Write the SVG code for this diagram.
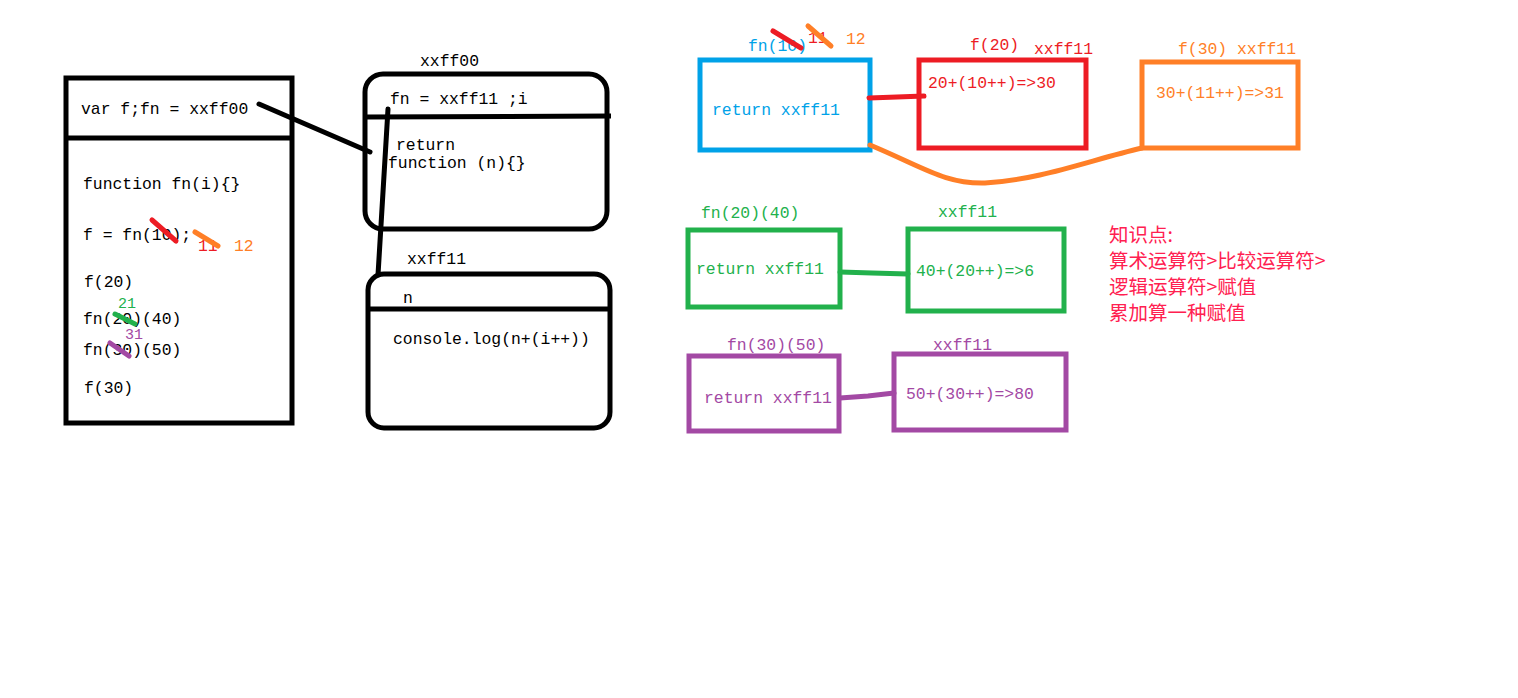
<svg xmlns="http://www.w3.org/2000/svg" width="1518" height="698" viewBox="0 0 1518 698">
<style>
text{font-family:"Liberation Mono","DejaVu Sans Mono",monospace;font-size:16.4px;}
.k{fill:#000}
.sm{font-size:15px}
.cn{font-family:"Noto Sans CJK SC","Noto Sans CJK JP",sans-serif;font-size:19.5px;fill:#ff2050}
.bk{fill:none;stroke:#000;stroke-width:5}
.ln{fill:none;stroke-width:5;stroke-linecap:round}
.blue{fill:#00a2e8}.red{fill:#ed1c24}.org{fill:#ff7f27}.grn{fill:#22b14c}.pur{fill:#a349a4}
</style>
<rect width="1518" height="698" fill="#fff"/>

<g id="stack">
<rect class="bk" x="66" y="78" width="226" height="345"/>
<line class="bk" x1="66" y1="138" x2="292" y2="138"/>
<text class="k" x="81" y="114">var f;fn = xxff00</text>
<text class="k" x="83" y="189">function fn(i){}</text>
<text class="k" x="83" y="240">f = fn(10);</text>
<text class="red" x="198" y="251">11</text>
<text class="org" x="234" y="251">12</text>
<line class="ln" stroke="#ed1c24" x1="152" y1="220" x2="176" y2="241"/>
<line class="ln" stroke="#ff7f27" x1="195" y1="232" x2="218" y2="246"/>
<text class="k" x="84" y="287">f(20)</text>
<text class="grn sm" x="118" y="308">21</text>
<text class="k" x="83" y="324">fn(20)(40)</text>
<line class="ln" stroke="#22b14c" x1="115" y1="314" x2="135" y2="324"/>
<text class="pur sm" x="125" y="339">31</text>
<text class="k" x="83" y="355">fn(30)(50)</text>
<line class="ln" stroke="#a349a4" x1="110" y1="343" x2="129" y2="356"/>
<text class="k" x="84" y="393">f(30)</text>
</g>

<g id="heap-xxff00">
<text class="k" x="420" y="66">xxff00</text>
<rect class="bk" x="365" y="74" width="242" height="155" rx="18"/>
<line class="bk" x1="366" y1="117" x2="611" y2="116"/>
<text class="k" x="390" y="104">fn = xxff11 ;i</text>
<text class="k" x="396" y="150">return</text>
<text class="k" x="388" y="168">function (n){}</text>
</g>

<g id="heap-xxff11">
<text class="k" x="407" y="264">xxff11</text>
<rect class="bk" x="368" y="274" width="242" height="154" rx="16"/>
<line class="bk" x1="368" y1="309" x2="610" y2="309"/>
<text class="k" x="403" y="303">n</text>
<text class="k" x="393" y="344">console.log(n+(i++))</text>
</g>

<g id="call-fn10">
<text class="blue" x="748" y="51">fn(10)</text>
<text class="red" x="808" y="43">11</text>
<line class="ln" stroke="#ed1c24" x1="773" y1="31" x2="801" y2="48"/>
<line class="ln" stroke="#ff7f27" x1="808" y1="26" x2="831" y2="46"/>
<text class="org" x="846" y="44">12</text>
<rect x="700" y="60" width="170" height="90" fill="none" stroke="#00a2e8" stroke-width="5"/>
<text class="blue" x="712" y="115">return xxff11</text>
</g>

<g id="call-f20">
<text class="red" x="970" y="50">f(20)</text>
<text class="red" x="1034" y="54">xxff11</text>
<rect x="919" y="60" width="167" height="88" fill="none" stroke="#ed1c24" stroke-width="5"/>
<text class="red" x="928" y="88">20+(10++)=&gt;30</text>
</g>

<g id="call-f30">
<text class="org" x="1178" y="54">f(30) xxff11</text>
<rect x="1142" y="62" width="156" height="86" fill="none" stroke="#ff7f27" stroke-width="5"/>
<text class="org" x="1156" y="98">30+(11++)=&gt;31</text>
</g>

<g id="call-fn20-40">
<text class="grn" x="701" y="218">fn(20)(40)</text>
<rect x="688" y="230" width="152" height="77" fill="none" stroke="#22b14c" stroke-width="5"/>
<text class="grn" x="696" y="274">return xxff11</text>
</g>
<g id="inner-40">
<text class="grn" x="938" y="217">xxff11</text>
<rect x="908" y="229" width="156" height="82" fill="none" stroke="#22b14c" stroke-width="5"/>
<text class="grn" x="916" y="276">40+(20++)=&gt;6</text>
</g>

<g id="call-fn30-50">
<text class="pur" x="727" y="350">fn(30)(50)</text>
<rect x="689" y="356" width="150" height="75" fill="none" stroke="#a349a4" stroke-width="5"/>
<text class="pur" x="704" y="403">return xxff11</text>
</g>
<g id="inner-50">
<text class="pur" x="933" y="350">xxff11</text>
<rect x="894" y="354" width="172" height="76" fill="none" stroke="#a349a4" stroke-width="5"/>
<text class="pur" x="906" y="399">50+(30++)=&gt;80</text>
</g>

<g id="notes">
<text class="cn" x="1109" y="242">知识点:</text>
<text class="cn" x="1109" y="268">算术运算符&gt;比较运算符&gt;</text>
<text class="cn" x="1109" y="294">逻辑运算符&gt;赋值</text>
<text class="cn" x="1109" y="320">累加算一种赋值</text>
</g>

<g id="connectors">
<line class="ln" stroke="#000" x1="259" y1="104" x2="370" y2="152"/>
<line class="ln" stroke="#000" x1="388" y1="109" x2="378" y2="275"/>
<polyline class="ln" stroke="#ed1c24" points="869,98 897,97 924,96"/>
<path class="ln" stroke="#ff7f27" d="M870,145 C925,168 945,184 985,183 C1040,180 1090,160 1142,148"/>
<polyline class="ln" stroke="#22b14c" points="840,272 872,273 908,274"/>
<polyline class="ln" stroke="#a349a4" points="840,398 868,396 894,393"/>
</g>
</svg>
